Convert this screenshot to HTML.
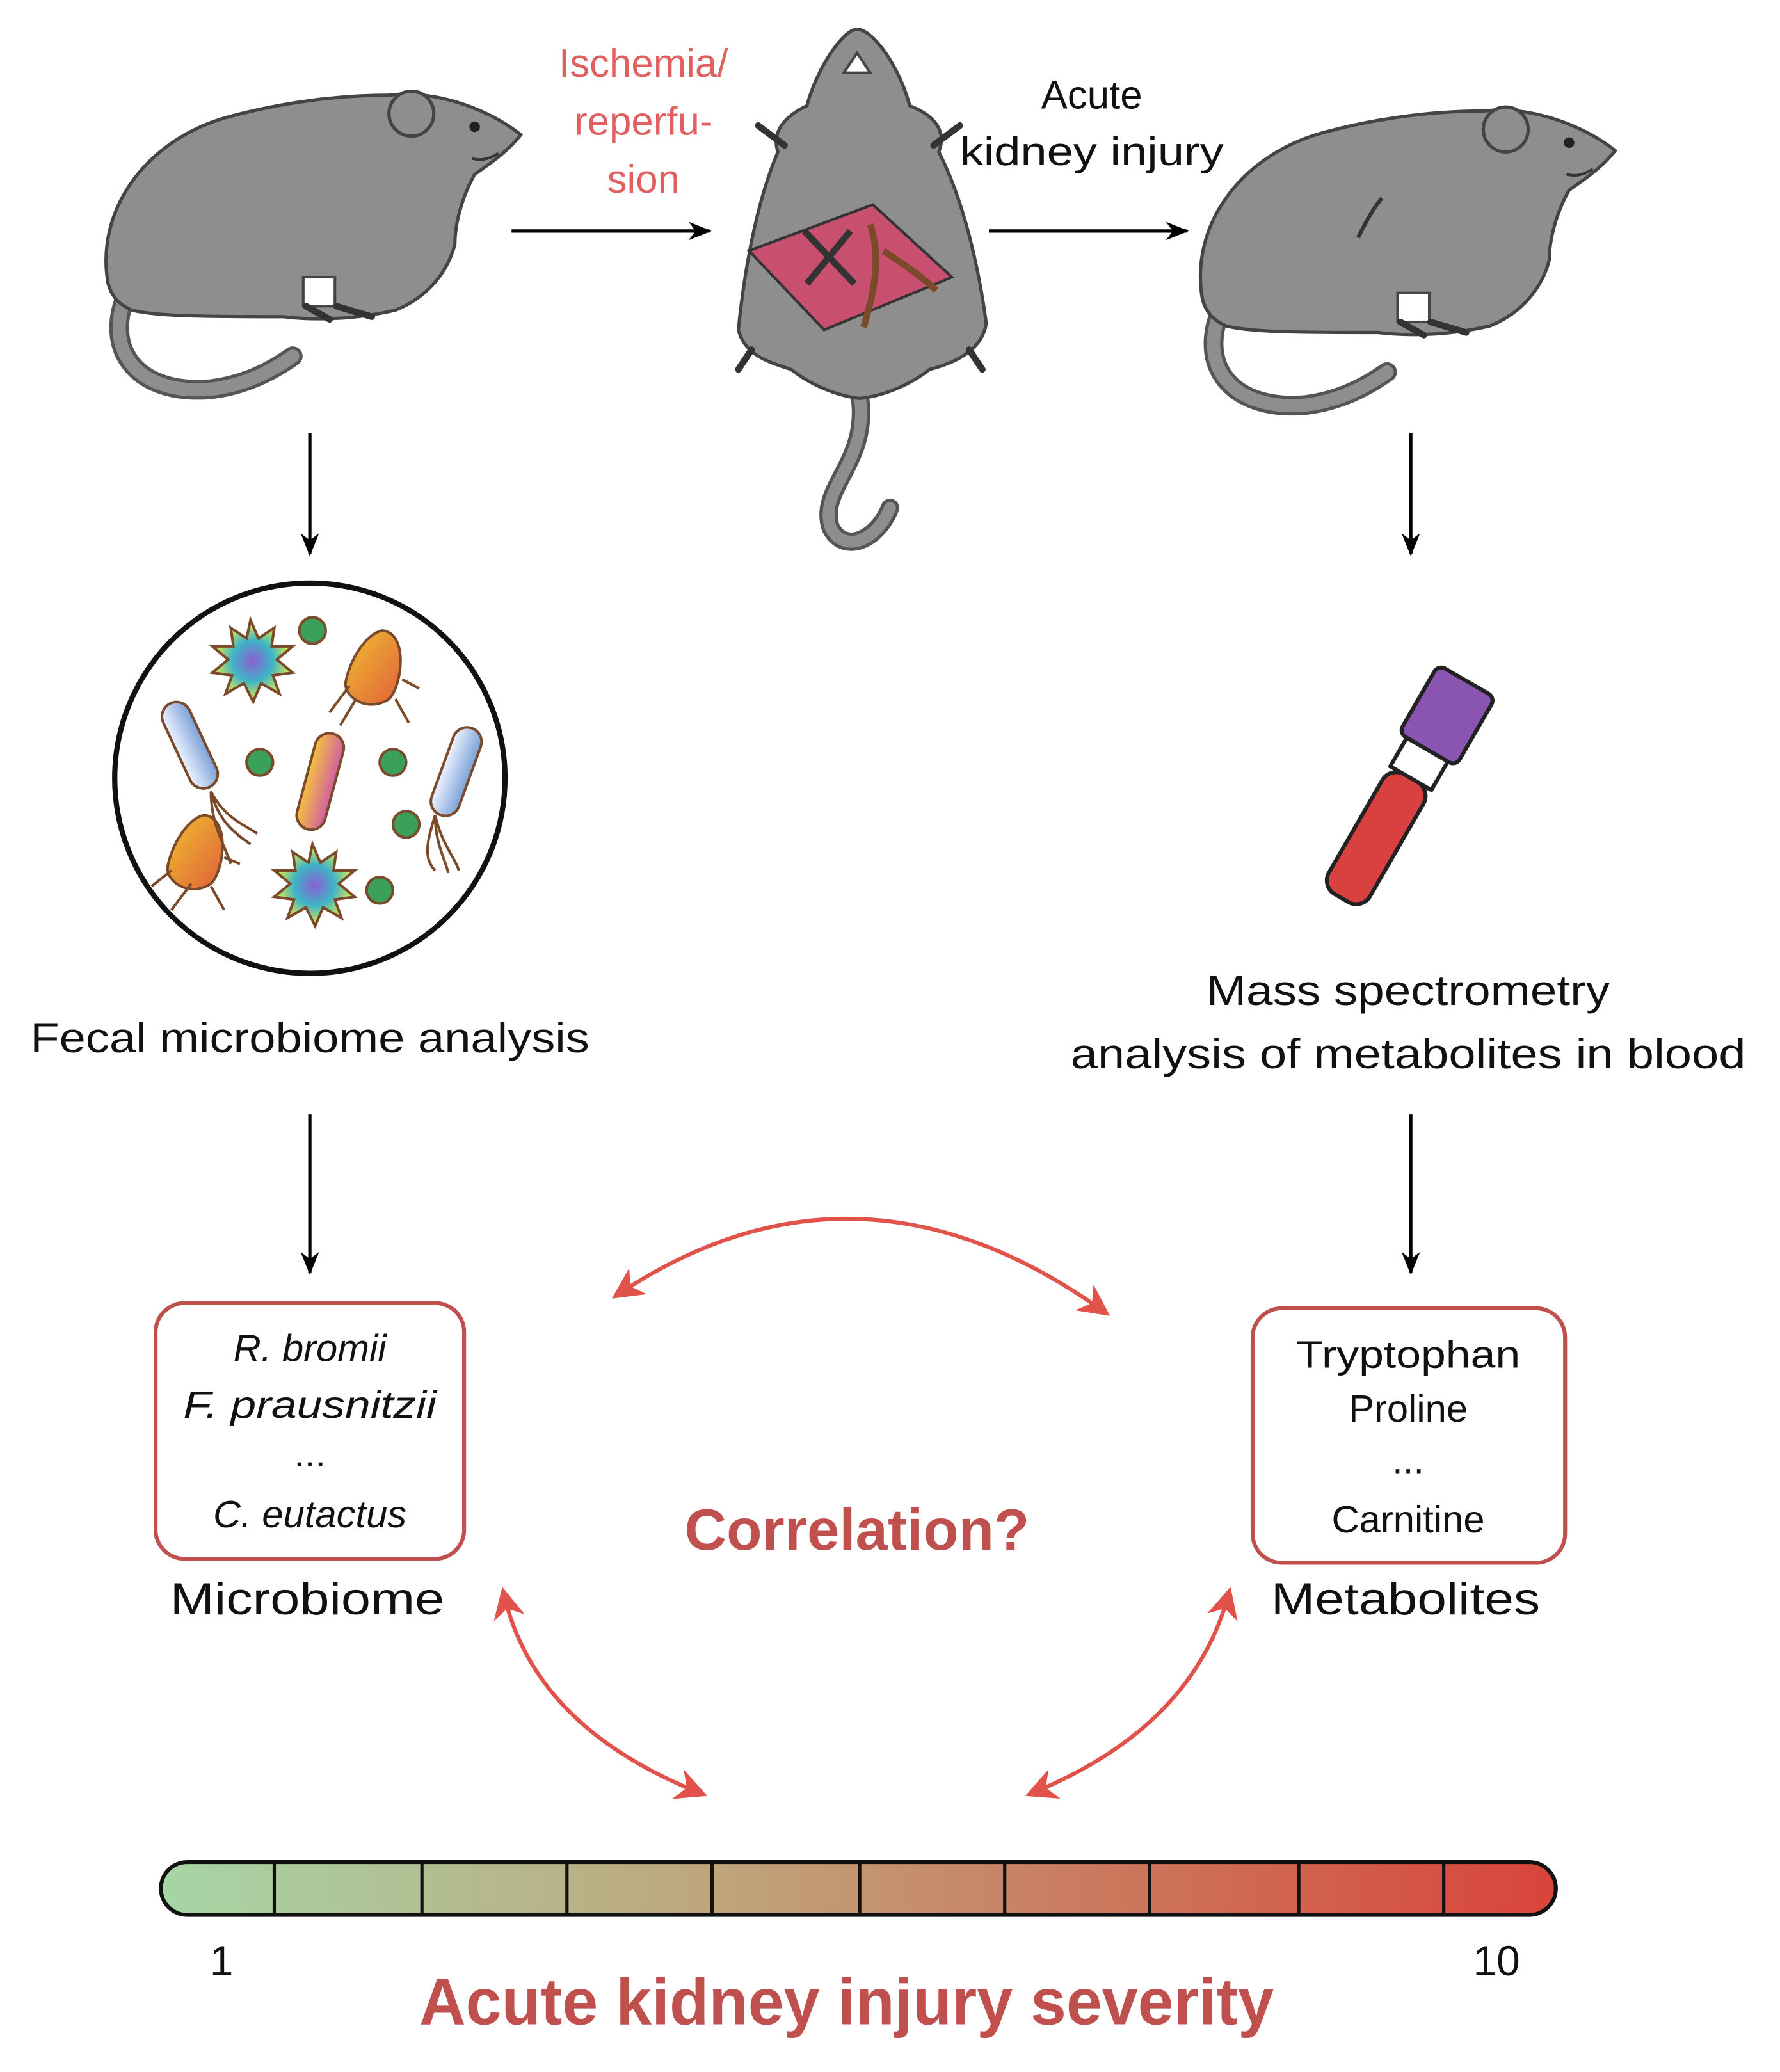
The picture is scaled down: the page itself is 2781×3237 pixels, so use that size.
<!DOCTYPE html>
<html><head><meta charset="utf-8"><style>
html,body{margin:0;padding:0;background:#fff;}
svg{display:block;}
text{font-family:"Liberation Sans",sans-serif;}
</style></head><body>
<svg width="2781" height="3237" viewBox="0 0 1350 1571" xmlns="http://www.w3.org/2000/svg">
<defs>
<marker id="ab" viewBox="0 0 10 10" refX="9" refY="5" markerWidth="7" markerHeight="7" orient="auto-start-reverse"><path d="M0,1 L10,5 L0,9 L3,5z" fill="#000"/></marker>
<marker id="ar" viewBox="0 0 10 10" refX="8" refY="5" markerWidth="8" markerHeight="8" orient="auto-start-reverse"><path d="M0,0 L10,5 L0,10 L3,5z" fill="#e0524a"/></marker>
<linearGradient id="bar" x1="0" x2="1"><stop offset="0" stop-color="#a6d6a6"/><stop offset="0.4" stop-color="#bfa57c"/><stop offset="1" stop-color="#d9443a"/></linearGradient>
<radialGradient id="sun"><stop offset="0" stop-color="#8a5fd0"/><stop offset="0.5" stop-color="#3fb3c8"/><stop offset="1" stop-color="#e8f040"/></radialGradient>
<linearGradient id="org" x1="0" y1="0" x2="1" y2="1"><stop offset="0" stop-color="#f0c030"/><stop offset="1" stop-color="#e0603a"/></linearGradient>
<linearGradient id="blu" x1="0" x2="1"><stop offset="0" stop-color="#eef4ff"/><stop offset="1" stop-color="#7aa0d8"/></linearGradient>
<linearGradient id="pnk" x1="0" x2="1"><stop offset="0" stop-color="#f5c040"/><stop offset="1" stop-color="#d060a0"/></linearGradient>
<g id="rat">
<path d="M100,215 C75,260 100,300 160,295 C185,292 205,282 222,270" fill="none" stroke="#555" stroke-width="15" stroke-linecap="round"/>
<path d="M100,215 C75,260 100,300 160,295 C185,292 205,282 222,270" fill="none" stroke="#8e8e8e" stroke-width="10" stroke-linecap="round"/>
<path d="M82,215 C72,160 110,105 175,88 C220,76 262,72 295,72 C330,68 370,82 395,102 C385,115 370,125 360,132 C350,150 345,170 345,185 C340,205 325,225 300,235 C270,242 240,243 215,240 C160,240 120,240 100,235 C88,230 84,222 82,215z" fill="#8e8e8e" stroke="#444" stroke-width="2.5"/>
<circle cx="312" cy="86" r="17" fill="#8e8e8e" stroke="#444" stroke-width="2.5"/>
<circle cx="360" cy="96" r="4" fill="#222"/>
<path d="M358,120 C365,122 372,120 378,116" stroke="#333" stroke-width="2" fill="none"/>
<rect x="230" y="210" width="24" height="22" fill="#fff" stroke="#444" stroke-width="2"/>
<path d="M255,232 L282,240 M232,232 L250,242" stroke="#333" stroke-width="5" stroke-linecap="round"/>
</g>
</defs>

<use href="#rat"/>
<use href="#rat" transform="translate(830,12)"/>
<path d="M1030,180 C1035,170 1040,160 1048,150" stroke="#333" stroke-width="3" fill="none"/>

<!-- top-view rat -->
<path d="M652,300 C660,350 620,370 630,400 C640,420 665,410 675,385" fill="none" stroke="#555" stroke-width="14" stroke-linecap="round"/>
<path d="M652,300 C660,350 620,370 630,400 C640,420 665,410 675,385" fill="none" stroke="#8e8e8e" stroke-width="9" stroke-linecap="round"/>
<path d="M650,22 C640,22 620,50 612,80 C595,88 585,100 590,115 C575,150 565,200 560,250 C565,270 585,275 600,280 C615,292 635,300 652,302 C670,300 690,292 705,280 C725,275 745,265 748,245 C742,200 730,150 712,115 C718,100 710,88 690,80 C682,50 662,22 650,22z" fill="#8e8e8e" stroke="#444" stroke-width="2.5"/>
<path d="M640,55 L660,55 L650,40z" fill="#fff" stroke="#444" stroke-width="2"/>
<path d="M595,110 L575,95 M708,110 L728,95 M570,265 L560,280 M735,265 L745,280" stroke="#333" stroke-width="5" stroke-linecap="round"/>
<path d="M568,190 L662,155 L722,210 L625,250z" fill="#c8506e" stroke="#333" stroke-width="2"/>
<path d="M610,175 L648,215 M645,175 L612,215" stroke="#333" stroke-width="5"/>
<path d="M660,170 C670,200 660,230 655,248 M670,190 C685,200 700,210 710,220" stroke="#7a4a2a" stroke-width="5" fill="none"/>

<!-- black arrows -->
<g stroke="#000" stroke-width="2.5" fill="none">
<line x1="388" y1="175" x2="538" y2="175" marker-end="url(#ab)"/>
<line x1="750" y1="175" x2="900" y2="175" marker-end="url(#ab)"/>
<line x1="235" y1="328" x2="235" y2="420" marker-end="url(#ab)"/>
<line x1="1070" y1="328" x2="1070" y2="420" marker-end="url(#ab)"/>
<line x1="235" y1="845" x2="235" y2="965" marker-end="url(#ab)"/>
<line x1="1070" y1="845" x2="1070" y2="965" marker-end="url(#ab)"/>
</g>

<g font-size="30" text-anchor="middle">
<text x="488" y="58" fill="#e06060">Ischemia/</text>
<text x="488" y="102" fill="#e06060">reperfu-</text>
<text x="488" y="146" fill="#e06060">sion</text>
<text x="828" y="82" fill="#111">Acute</text>
<text x="828" y="125" fill="#111" textLength="200" lengthAdjust="spacingAndGlyphs">kidney injury</text>
</g>

<!-- bacteria circle -->
<circle cx="235" cy="590" r="148" fill="#fff" stroke="#111" stroke-width="4"/>
<g stroke="#7a4a2a" stroke-width="2">
<circle cx="237" cy="478" r="10" fill="#3aa05a"/>
<circle cx="197" cy="578" r="10" fill="#3aa05a"/>
<circle cx="298" cy="578" r="10" fill="#3aa05a"/>
<circle cx="308" cy="625" r="10" fill="#3aa05a"/>
<circle cx="288" cy="675" r="10" fill="#3aa05a"/>
<polygon points="190,470 196,484 208,476 206,490 222,490 210,500 222,510 207,512 212,526 198,518 192,532 185,518 171,526 176,512 161,510 173,500 161,490 177,490 175,476 187,484" fill="url(#sun)"/>
<polygon points="237,640 243,654 255,646 253,660 269,660 257,670 269,680 254,682 259,696 245,688 239,702 232,688 218,696 223,682 208,680 220,670 208,660 224,660 222,646 234,654" fill="url(#sun)"/>
<path d="M290,478 C310,480 305,520 295,530 C280,540 262,530 262,518 C265,500 278,480 290,478z" fill="url(#org)"/>
<path d="M155,618 C175,620 170,660 160,670 C145,680 127,670 127,658 C130,640 143,620 155,618z" fill="url(#org)"/>
<path d="M265,520 L250,540 M270,530 L258,550 M300,530 L310,548 M305,515 L318,522 M145,670 L130,690 M160,672 L170,690 M130,660 L115,672 M170,650 L182,655" fill="none"/>
<rect x="133" y="530" width="22" height="70" rx="11" transform="rotate(-25 144 565)" fill="url(#blu)"/>
<rect x="335" y="550" width="22" height="70" rx="11" transform="rotate(20 346 585)" fill="url(#blu)"/>
<rect x="232" y="555" width="22" height="75" rx="11" transform="rotate(15 243 592)" fill="url(#pnk)"/>
<path d="M160,600 C165,620 175,630 190,640 M160,600 C160,625 170,640 175,655 M160,600 C170,620 185,625 195,632 M330,618 C325,635 320,650 330,660 M330,618 C335,640 345,650 348,660 M330,618 C330,640 338,652 340,662" fill="none"/>
</g>

<!-- blood tube -->
<g transform="rotate(30 1070 590)">
<rect x="1045" y="505" width="50" height="60" rx="6" fill="#8a55b0" stroke="#222" stroke-width="3"/>
<rect x="1052" y="565" width="36" height="25" fill="#fff" stroke="#222" stroke-width="3"/>
<rect x="1052" y="590" width="36" height="105" rx="12" fill="#d94040" stroke="#222" stroke-width="3"/>
</g>

<g font-size="32" text-anchor="middle" fill="#111" lengthAdjust="spacingAndGlyphs">
<text x="235" y="798" textLength="424" lengthAdjust="spacingAndGlyphs">Fecal microbiome analysis</text>
<text x="1068" y="762" textLength="306" lengthAdjust="spacingAndGlyphs">Mass spectrometry</text>
<text x="1068" y="810" textLength="512" lengthAdjust="spacingAndGlyphs">analysis of metabolites in blood</text>
</g>

<!-- boxes -->
<rect x="118" y="988" width="234" height="194" rx="22" fill="#fff" stroke="#c0504d" stroke-width="3"/>
<rect x="950" y="992" width="237" height="193" rx="22" fill="#fff" stroke="#c0504d" stroke-width="3"/>
<g font-size="29" text-anchor="middle" fill="#111">
<text x="235" y="1032" font-style="italic">R. bromii</text>
<text x="235" y="1075" font-style="italic" textLength="192" lengthAdjust="spacingAndGlyphs">F. prausnitzii</text>
<text x="235" y="1112">...</text>
<text x="235" y="1158" font-style="italic">C. eutactus</text>
<text x="1068" y="1037" textLength="170" lengthAdjust="spacingAndGlyphs">Tryptophan</text>
<text x="1068" y="1078">Proline</text>
<text x="1068" y="1117">...</text>
<text x="1068" y="1162">Carnitine</text>
<text x="233" y="1224" font-size="34" textLength="208" lengthAdjust="spacingAndGlyphs">Microbiome</text>
<text x="1066" y="1224" font-size="34" textLength="204" lengthAdjust="spacingAndGlyphs">Metabolites</text>
</g>
<text x="650" y="1175" font-size="44" font-weight="bold" text-anchor="middle" fill="#c0504d">Correlation?</text>

<!-- red arcs -->
<g stroke="#e0524a" stroke-width="3" fill="none">
<path d="M468,982 Q650,860 838,995" marker-start="url(#ar)" marker-end="url(#ar)"/>
<path d="M382,1208 Q405,1310 532,1360" marker-start="url(#ar)" marker-end="url(#ar)"/>
<path d="M932,1208 Q905,1310 782,1360" marker-start="url(#ar)" marker-end="url(#ar)"/>
</g>

<!-- bar -->
<rect x="122" y="1412" width="1058" height="40" rx="20" fill="url(#bar)" stroke="#111" stroke-width="3"/>
<g stroke="#111" stroke-width="2.5">
<line x1="208" y1="1412" x2="208" y2="1452"/><line x1="320" y1="1412" x2="320" y2="1452"/>
<line x1="430" y1="1412" x2="430" y2="1452"/><line x1="540" y1="1412" x2="540" y2="1452"/>
<line x1="652" y1="1412" x2="652" y2="1452"/><line x1="762" y1="1412" x2="762" y2="1452"/>
<line x1="872" y1="1412" x2="872" y2="1452"/><line x1="985" y1="1412" x2="985" y2="1452"/>
<line x1="1095" y1="1412" x2="1095" y2="1452"/>
</g>
<text x="168" y="1498" font-size="32" text-anchor="middle" fill="#111">1</text>
<text x="1135" y="1498" font-size="32" text-anchor="middle" fill="#111">10</text>
<text x="642" y="1535" font-size="50" font-weight="bold" text-anchor="middle" fill="#c0504d" textLength="648" lengthAdjust="spacingAndGlyphs">Acute kidney injury severity</text>
</svg>
</body></html>
